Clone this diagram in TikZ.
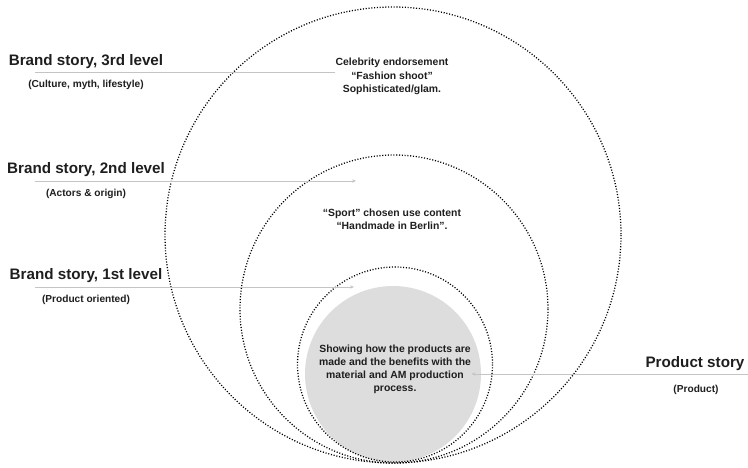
\documentclass[tikz,border=0pt]{standalone}
\usepackage{fontspec}
\setmainfont{Liberation Sans}
\usetikzlibrary{arrows.meta}

\definecolor{discgray}{RGB}{221,221,221}
\definecolor{leadgray}{RGB}{196,196,196}
\definecolor{inkgray}{RGB}{30,30,30}

\tikzset{every picture/.style={line width=0.75pt}}
\tikzset{
  ring/.style={line width=0.95pt, dash pattern=on 0.8pt off 1.3pt},
  lead/.style={draw=leadgray, line width=0.5pt},
  leadtip/.style={lead, -{Stealth[length=3pt,width=2.5pt]}},
  headtext/.style={inner sep=0pt, text=inkgray, font=\fontsize{11.4}{13}\selectfont\bfseries},
  subtext/.style={inner sep=0pt, text=inkgray, font=\fontsize{7.6}{9}\selectfont\bfseries},
  bodytext/.style={inner sep=0pt, text=inkgray, align=center, font=\fontsize{7.8}{9.9}\selectfont\bfseries}
}

\begin{document}
\begin{tikzpicture}[x=0.75pt,y=0.75pt,yscale=-1,xscale=1]
	\useasboundingbox (0,0) rectangle (748,467);

	% disc and the three rings, all touching at the bottom
	\coordinate (c0) at (393,374);
	\coordinate (c1) at (395,364.5);
	\coordinate (c2) at (394,309);
	\coordinate (c3) at (393,235);
	\fill [discgray] (c0) circle [radius=88];
	\draw [ring] (c1) circle [radius=97.5];
	\draw [ring] (c2) circle [radius=154];
	\draw [ring] (c3) circle [radius=228];

	% texts inside the rings
	\draw (392,76.5) node [bodytext] (cel) {Celebrity endorsement\\``Fashion shoot''\\Sophisticated/glam.};
	\draw (392,219.5) node [bodytext] (sport) {``Sport'' chosen use content\\``Handmade in Berlin''.};
	\draw (395,369.5) node [bodytext] (show) {Showing how the products are\\made and the benefits with the\\material and AM production\\process.};

	% labels on the left
	\draw (86,65) node [headtext, anchor=base] (l3) {Brand story, 3rd level};
	\draw (86,87) node [subtext, anchor=base] (s3) {(Culture, myth, lifestyle)};
	\draw (86,173) node [headtext, anchor=base] (l2) {Brand story, 2nd level};
	\draw (86,196) node [subtext, anchor=base] (s2) {(Actors \& origin)};
	\draw (86,279) node [headtext, anchor=base] (l1) {Brand story, 1st level};
	\draw (86,302) node [subtext, anchor=base] (s1) {(Product oriented)};

	% label on the right
	\draw (695,367) node [headtext, anchor=base] (lp) {Product story};
	\draw (696,392) node [subtext, anchor=base] (sp) {(Product)};

	% leader lines
	\coordinate (a3) at (35,72);
	\coordinate (a2) at (35,181);
	\coordinate (b2) at (356,181);
	\coordinate (a1) at (35,287);
	\coordinate (b1) at (354,287);
	\coordinate (ap) at (748,374);
	\draw [lead] (a3) -- (a3 -| cel.west);
	\draw [leadtip] (a2) -- (b2);
	\draw [leadtip] (a1) -- (b1);
	\draw [leadtip] (ap) -- (ap -| show.east);
\end{tikzpicture}
\end{document}
